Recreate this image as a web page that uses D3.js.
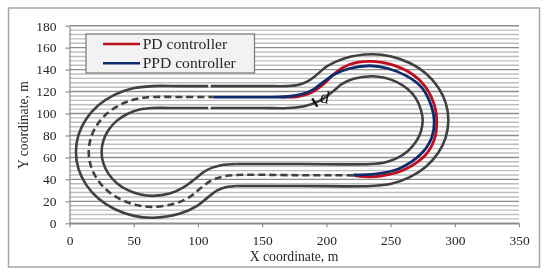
<!DOCTYPE html>
<html>
<head>
<meta charset="utf-8">
<script src="https://cdn.jsdelivr.net/npm/d3@7"></script>
<style>
	html, body { margin: 0; padding: 0; background: #fff; }
	svg { display: block; filter: blur(0.35px); }
	text { font-family: "Liberation Serif", serif; fill: #262626; }
</style>
</head>
<body>
<div id="chart"></div>
<script>
"use strict";

var xTicks = [0, 50, 100, 150, 200, 250, 300, 350];
var yTicks = [0, 20, 40, 60, 80, 100, 120, 140, 160, 180];

// track edges, each one is split where the reference has its small gap
var outerLeft = [[108, 125], [85, 125], [65, 125], [49.5, 123], [35, 117], [22.5, 107.5], [13, 95], [7, 80.5], [5, 65], [7, 49.5], [13, 35], [22.5, 22.5], [35, 13], [49.5, 7], [65, 5], [85.5, 8.6], [99.4, 15.9], [108.5, 24.3], [115, 30], [122.2, 33], [130, 34]];
var outerRight = [[110, 125], [150, 125], [170, 125], [177.8, 126], [185, 129], [191.2, 134], [200.6, 143.1], [214.5, 150.4], [235, 154], [250.5, 152], [265, 146], [277.5, 136.5], [287, 124], [293, 109.5], [295, 94], [293, 78.5], [287, 64], [277.5, 51.5], [265, 42], [250.5, 36], [235, 34], [180, 34], [130, 34]];
var innerLeft = [[108, 105], [85, 105], [65, 105], [54.6, 103.6], [45, 99.6], [36.7, 93.3], [30.4, 85], [26.4, 75.4], [25, 65], [26.4, 54.6], [30.4, 45], [36.7, 36.7], [45, 30.4], [54.6, 26.4], [65, 25], [78.7, 27.4], [88, 32.2], [95, 38], [107, 48.5], [118, 52.8], [130, 54]];
var innerRight = [[110, 105], [150, 105], [170, 105], [182.9, 106.7], [195, 111.7], [206, 121], [212, 126.8], [221.3, 131.6], [235, 134], [245.4, 132.6], [255, 128.6], [263.3, 122.3], [269.6, 114], [273.6, 103.4], [275, 94], [273.6, 83.6], [269.6, 74], [263.3, 65.7], [255, 59.4], [245.4, 55.4], [235, 54], [180, 54], [130, 54]];

// dashed centre line
var centreLine = [[221, 43.7], [180, 43.8], [130, 44], [119.6, 42.6], [110, 38.6], [101, 31], [93.7, 24], [82.1, 18], [65, 15], [52, 16.7], [40, 21.7], [29.6, 29.6], [21.7, 40], [16.7, 52], [15, 65], [16.7, 78], [21.7, 90], [29.6, 100.4], [40, 108.3], [52, 113.3], [65, 115], [90, 115], [112, 115]];

var pdPath = [[165, 115], [178, 115.5], [188, 119], [198, 127], [205, 135], [213, 142], [224, 146.5], [236, 147.5], [248, 145.5], [264, 138], [277, 124.5], [284.5, 106], [286, 92], [284, 76], [277, 62], [260, 48.5], [242, 43], [230, 42.5], [222, 43.5]];
var ppdPath = [[112, 115], [150, 115], [170, 115.5], [182, 118], [190, 122], [198, 129], [206, 135.5], [218, 141], [234, 143.5], [248, 141], [262, 134.5], [274, 124], [282, 106], [284, 92], [282, 78], [274, 63.5], [257, 50], [239, 45], [221, 44]];

var distanceTick = [[189, 113.8], [193, 106.2]];

var legendNames = ["PD controller", "PPD controller"];
var legendColors = ["#c00d1e", "#0d2a6b"];

var width = 550;
var height = 273;

var svg = d3.select("#chart").append("svg")
	.attr("width", width)
	.attr("height", height);

// outer frame
svg.append("rect")
	.attr("x", 8.5)
	.attr("y", 8)
	.attr("width", 531)
	.attr("height", 259)
	.attr("fill", "#fff")
	.attr("stroke", "#a6a6a6")
	.attr("stroke-width", 1.5);

var x = d3.scaleLinear().domain([0, 350]).range([69.5, 519]);
var y = d3.scaleLinear().domain([0, 180]).range([223.3, 25.7]);

// minor gridlines every 4 m, major every 20 m
var minorTicks = d3.range(0, 181, 4).filter(function(d) {
	return d % 20 !== 0;
});

svg.append("g").selectAll("line")
	.data(minorTicks)
	.join("line")
	.attr("x1", x(0))
	.attr("x2", x(350))
	.attr("y1", function(d) { return y(d); })
	.attr("y2", function(d) { return y(d); })
	.attr("stroke", "#bdbdbd")
	.attr("stroke-width", 1.4);

svg.append("g").selectAll("line")
	.data(yTicks)
	.join("line")
	.attr("x1", x(0))
	.attr("x2", x(350))
	.attr("y1", function(d) { return y(d); })
	.attr("y2", function(d) { return y(d); })
	.attr("stroke", "#8c8c8c")
	.attr("stroke-width", 1.4);

var xAxis = svg.append("g")
	.attr("transform", "translate(0," + y(0) + ")")
	.call(d3.axisBottom(x).tickValues(xTicks).tickSize(4).tickPadding(8).tickSizeOuter(0));

var yAxis = svg.append("g")
	.attr("transform", "translate(" + x(0) + ",0)")
	.call(d3.axisLeft(y).tickValues(yTicks).tickSize(4).tickPadding(9).tickSizeOuter(0));

[xAxis, yAxis].forEach(function(axis) {
	axis.selectAll("path, line").attr("stroke", "#8c8c8c").attr("stroke-width", 1.2);
	axis.selectAll("text").style("font-size", "13.5px").style("font-family", "Liberation Serif, serif").attr("fill", "#262626");
});

var line = d3.line()
	.x(function(d) { return x(d[0]); })
	.y(function(d) { return y(d[1]); })
	.curve(d3.curveCatmullRom.alpha(0.5));

var tracks = svg.append("g").attr("fill", "none").attr("stroke-linecap", "butt");

[outerLeft, outerRight, innerLeft, innerRight].forEach(function(edge) {
	tracks.append("path")
		.attr("d", line(edge))
		.attr("stroke", "#404040")
		.attr("stroke-width", 2.6);
});

tracks.append("path")
	.attr("d", line(centreLine))
	.attr("stroke", "#404040")
	.attr("stroke-width", 2.6)
	.attr("stroke-dasharray", "7,4");

tracks.append("path")
	.attr("d", line(pdPath))
	.attr("stroke", legendColors[0])
	.attr("stroke-width", 2.8);

tracks.append("path")
	.attr("d", line(ppdPath))
	.attr("stroke", legendColors[1])
	.attr("stroke-width", 2.8);

tracks.append("path")
	.attr("d", d3.line().x(function(d) { return x(d[0]); }).y(function(d) { return y(d[1]); })(distanceTick))
	.attr("stroke", "#111")
	.attr("stroke-width", 2.4);

svg.append("text")
	.attr("transform", "translate(" + x(194.5) + "," + y(110.5) + ") rotate(12)")
	.attr("font-size", 18)
	.style("fill", "#111")
	.text("d");

// legend
var legend = svg.append("g");

legend.append("rect")
	.attr("x", 86)
	.attr("y", 34)
	.attr("width", 168.5)
	.attr("height", 39)
	.attr("fill", "#f2f2f2")
	.attr("stroke", "#808080")
	.attr("stroke-width", 1.3);

legendNames.forEach(function(name, i) {
	var rowY = 44 + i * 19.3;
	legend.append("line")
		.attr("x1", 103)
		.attr("x2", 140)
		.attr("y1", rowY)
		.attr("y2", rowY)
		.attr("stroke", legendColors[i])
		.attr("stroke-width", 2.6);
	legend.append("text")
		.attr("x", 142.7)
		.attr("y", rowY + 4.5)
		.attr("font-size", 15.6)
		.text(name);
});

// axis titles
svg.append("text")
	.attr("x", 294)
	.attr("y", 261)
	.attr("text-anchor", "middle")
	.attr("font-size", 13.7)
	.text("X coordinate, m");

svg.append("text")
	.attr("transform", "translate(28,125) rotate(-90)")
	.attr("text-anchor", "middle")
	.attr("font-size", 13.7)
	.text("Y coordinate, m");
</script>
</body>
</html>
